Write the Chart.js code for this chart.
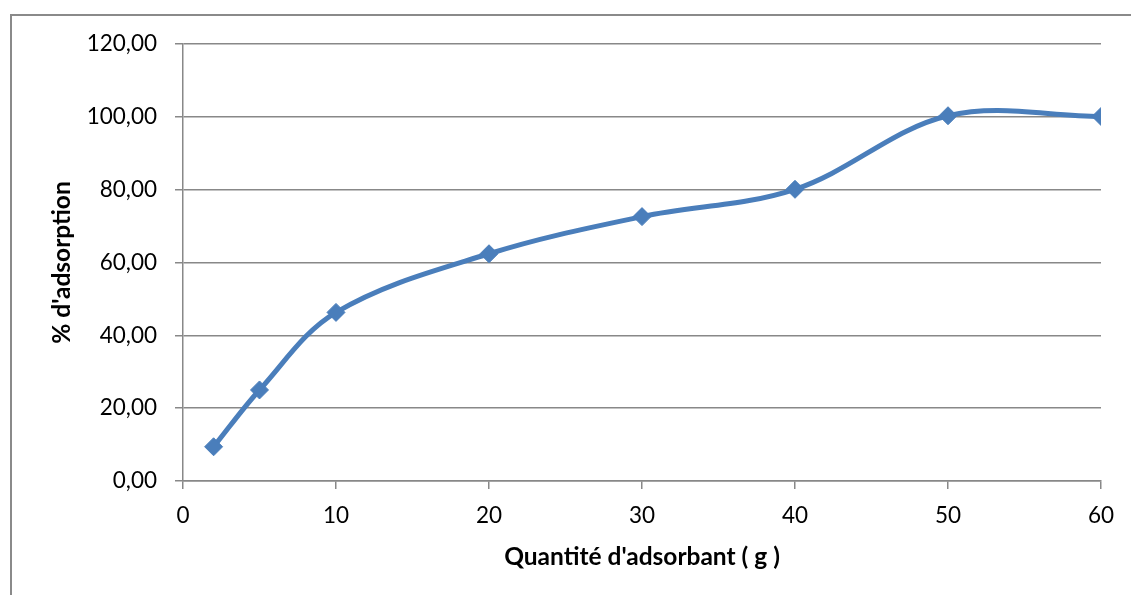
<!DOCTYPE html>
<html>
<head>
<meta charset="utf-8">
<script src="https://cdn.jsdelivr.net/npm/chart.js@4/dist/chart.umd.min.js"></script>
<style>
  html, body { margin: 0; padding: 0; background: #fff; width: 1131px; height: 595px; overflow: hidden; }
  #frame { position: absolute; left: 10px; top: 14px; width: 1200px; height: 700px; border-left: 2px solid #8a8a8a; border-top: 2px solid #8a8a8a; }
  #wrap { position: absolute; left: 0; top: 0; width: 1131px; height: 595px; }
</style>
</head>
<body>
<div id="frame"></div>
<div id="wrap"><canvas id="c" width="1131" height="595"></canvas></div>
<script>
const quantities = [2, 5, 10, 20, 30, 40, 50, 60];
const adsorption = [9.4, 25.0, 46.3, 62.4, 72.6, 80.1, 100.3, 100.1];
const xTitle = "Quantité d'adsorbant ( g )";
const yTitle = "% d'adsorption";

const points = quantities.map((q, i) => ({ x: q, y: adsorption[i] }));
const blue = '#4A7EBB';
const gridGray = '#888888';
const fontFamily = 'Lato, "Open Sans", sans-serif';

new Chart(document.getElementById('c'), {
  type: 'line',
  data: {
    datasets: [{
      data: points,
      borderColor: blue,
      backgroundColor: blue,
      borderWidth: 5,
      tension: 0.35,
      pointStyle: 'rectRot',
      pointRadius: 9,
      pointBorderWidth: 1,
      pointBackgroundColor: blue,
      pointBorderColor: blue,
      fill: false
    }]
  },
  options: {
    responsive: false,
    animation: false,
    layout: { padding: { top: 44, right: 30, bottom: 0, left: 0 } },
    plugins: { legend: { display: false }, tooltip: { enabled: false } },
    scales: {
      x: {
        type: 'linear',
        min: 0, max: 60,
        ticks: { stepSize: 10, color: '#000', padding: 13, font: { family: fontFamily, size: 22.5 } },
        grid: { drawOnChartArea: false, drawTicks: true, tickLength: 8, color: gridGray, lineWidth: 1.5 },
        border: { color: gridGray, width: 1.5 },
        title: { display: true, text: xTitle, color: '#000', font: { family: fontFamily, size: 24.5, weight: 'bold' }, padding: { top: 0, bottom: 23 } },
        afterFit: (s) => { s.height = 114; }
      },
      y: {
        min: 0, max: 120,
        ticks: { stepSize: 20, color: '#000', padding: 18, font: { family: fontFamily, size: 22.5 },
          callback: (v) => v.toFixed(2).replace('.', ',') },
        grid: { color: gridGray, lineWidth: 1.5, tickLength: 8 },
        border: { color: gridGray, width: 1.5 },
        title: { display: true, text: yTitle, color: '#000', font: { family: fontFamily, size: 24.5, weight: 'bold' }, padding: { top: 47, bottom: 0 } },
        afterFit: (s) => { s.width = 183; }
      }
    }
  }
});
</script>
</body>
</html>
